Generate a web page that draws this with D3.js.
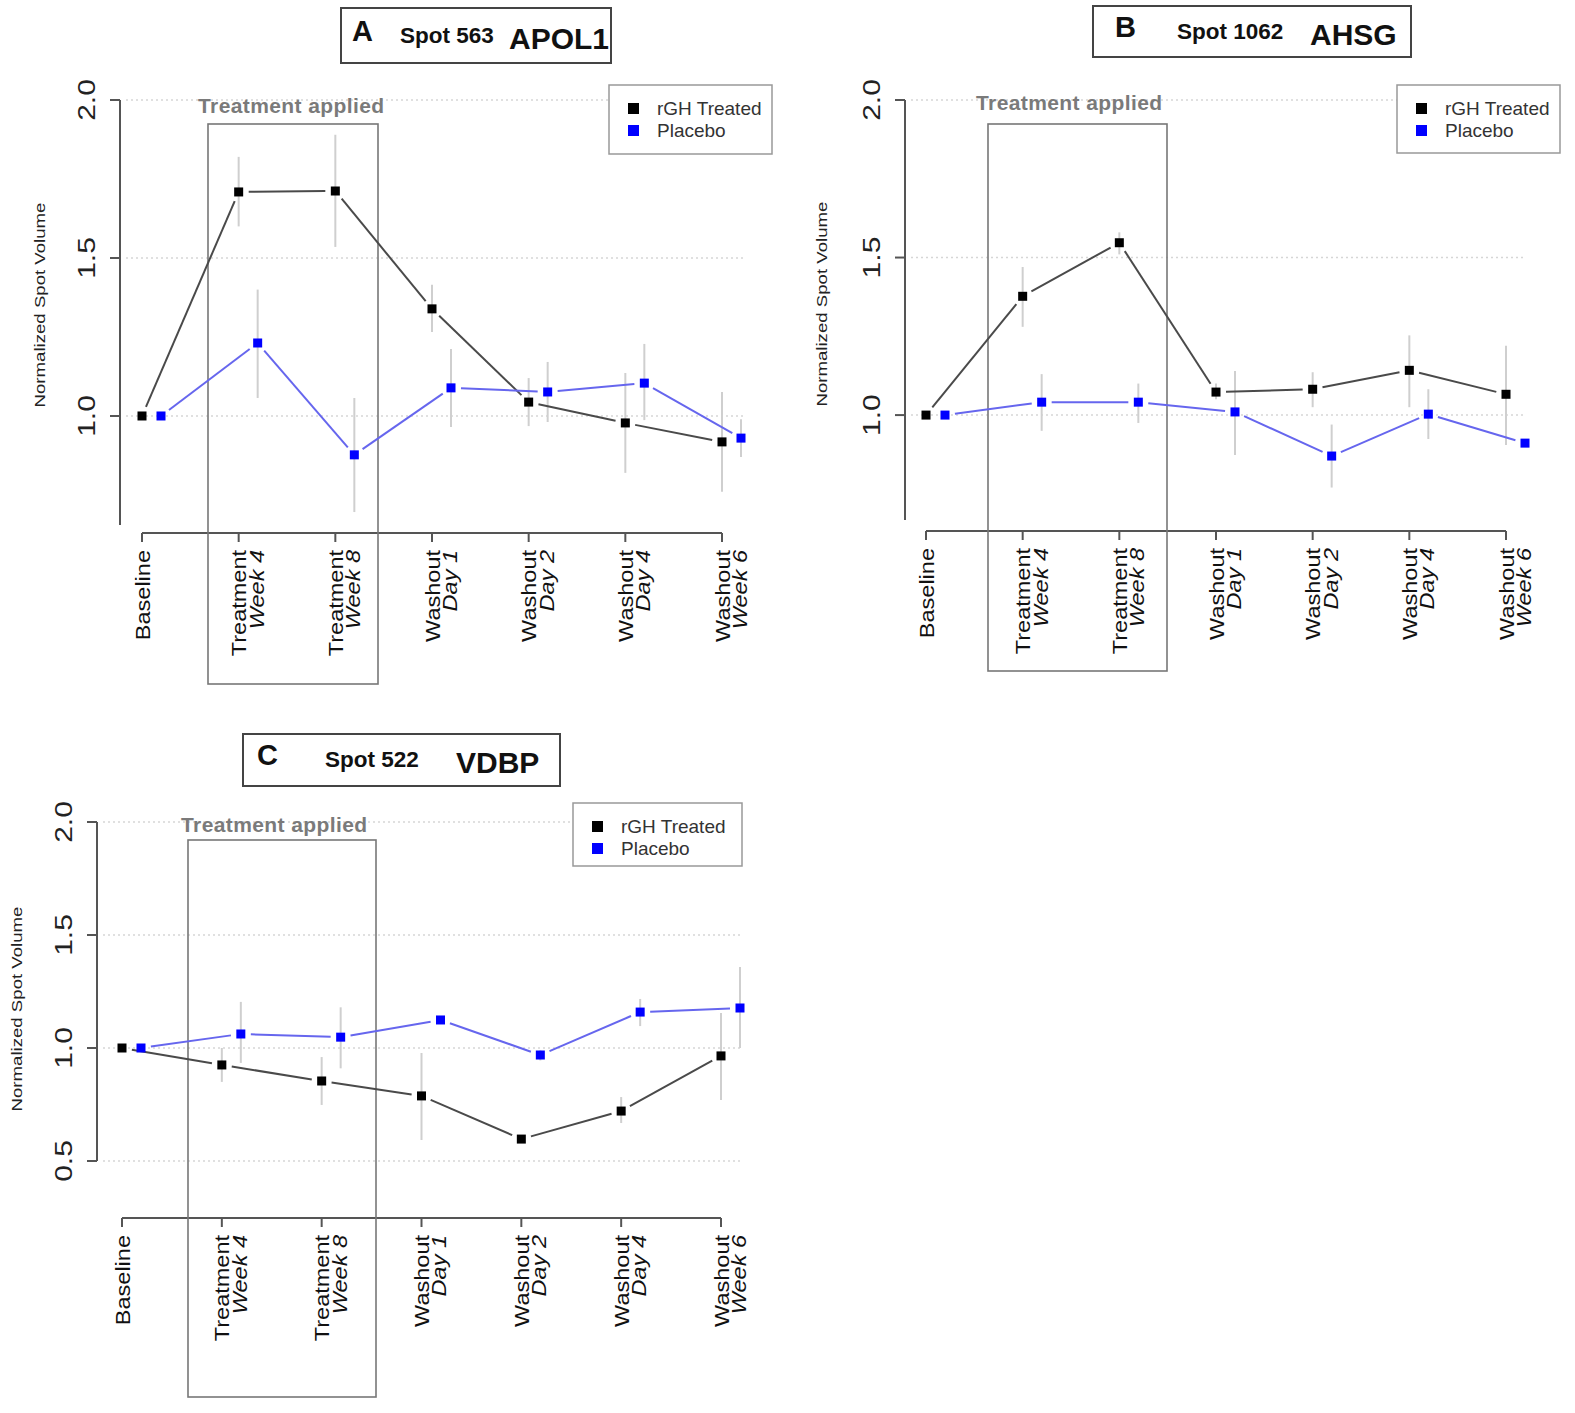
<!DOCTYPE html>
<html>
<head>
<meta charset="utf-8">
<script src="https://cdn.jsdelivr.net/npm/d3@7"></script>
<style>
  body { margin: 0; background: #fff; }
  svg text { font-family: "Liberation Sans", Arial, sans-serif; }
</style>
</head>
<body>
<div id="chart-area"></div>
<script>
// x categories (second line is italic)
var categories = [["Baseline"], ["Treatment", "Week 4"], ["Treatment", "Week 8"],
  ["Washout", "Day 1"], ["Washout", "Day 2"], ["Washout", "Day 4"], ["Washout", "Week 6"]];
var seriesNames = ["rGH Treated", "Placebo"];

// panel A - APOL1
var apol1Rgh   = [1.00, 1.709, 1.712, 1.339, 1.044, 0.978, 0.918];
var apol1RghLo = [null, 1.60, 1.535, 1.266, 0.968, 0.82, 0.76];
var apol1RghHi = [null, 1.82, 1.89, 1.415, 1.12, 1.136, 1.076];
var apol1Pla   = [1.00, 1.231, 0.877, 1.089, 1.076, 1.104, 0.93];
var apol1PlaLo = [null, 1.057, 0.696, 0.965, 0.981, 0.987, 0.87];
var apol1PlaHi = [null, 1.40, 1.057, 1.212, 1.171, 1.228, 0.99];

// panel B - AHSG
var ahsgRgh   = [1.00, 1.377, 1.547, 1.073, 1.082, 1.142, 1.066];
var ahsgRghLo = [null, 1.28, 1.51, 1.05, 1.025, 1.025, 0.905];
var ahsgRghHi = [null, 1.47, 1.58, 1.10, 1.136, 1.253, 1.22];
var ahsgPla   = [1.00, 1.041, 1.041, 1.01, 0.87, 1.003, 0.911];
var ahsgPlaLo = [null, 0.95, 0.975, 0.873, 0.77, 0.924, null];
var ahsgPlaHi = [null, 1.13, 1.10, 1.14, 0.97, 1.082, null];

// panel C - VDBP
var vdbpRgh   = [1.00, 0.925, 0.854, 0.788, 0.597, 0.721, 0.965];
var vdbpRghLo = [null, 0.85, 0.748, 0.593, 0.585, 0.668, 0.77];
var vdbpRghHi = [null, 1.00, 0.96, 0.978, 0.61, 0.783, 1.155];
var vdbpPla   = [1.00, 1.062, 1.048, 1.124, 0.969, 1.159, 1.177];
var vdbpPlaLo = [null, 0.934, 0.91, 1.11, 0.945, 1.097, 1.00];
var vdbpPlaHi = [null, 1.204, 1.18, 1.135, 0.99, 1.217, 1.358];

var yTicksAB = [1.0, 1.5, 2.0];
var yTicksC = [0.5, 1.0, 1.5, 2.0];

var svg = d3.select("#chart-area").append("svg")
  .attr("width", 1575)
  .attr("height", 1413);

var panels = [
  { letter: "A", spot: "Spot 563", protein: "APOL1",
    rgh: [apol1Rgh, apol1RghLo, apol1RghHi], pla: [apol1Pla, apol1PlaLo, apol1PlaHi],
    ticks: yTicksAB, ymin: 0.655, yTop: 100, yBot: 525, axisX: 120,
    xLeft: 142, xRight: 722, xAxisY: 533, gridRight: 745, ylabX: 40,
    title: [341, 8, 270, 55], letterX: 352, spotX: 400, protX: 509,
    box: [208, 124, 170, 560], applied: [198, 113],
    legend: [609, 85, 163, 69] },
  { letter: "B", spot: "Spot 1062", protein: "AHSG",
    rgh: [ahsgRgh, ahsgRghLo, ahsgRghHi], pla: [ahsgPla, ahsgPlaLo, ahsgPlaHi],
    ticks: yTicksAB, ymin: 0.667, yTop: 100, yBot: 520, axisX: 905,
    xLeft: 926, xRight: 1506, xAxisY: 531, gridRight: 1525, ylabX: 822,
    title: [1093, 6, 318, 51], letterX: 1115, spotX: 1177, protX: 1310,
    box: [988, 124, 179, 547], applied: [976, 110],
    legend: [1397, 85, 163, 68] },
  { letter: "C", spot: "Spot 522", protein: "VDBP",
    rgh: [vdbpRgh, vdbpRghLo, vdbpRghHi], pla: [vdbpPla, vdbpPlaLo, vdbpPlaHi],
    ticks: yTicksC, ymin: 0.5, yTop: 822, yBot: 1161, axisX: 97,
    xLeft: 122, xRight: 721, xAxisY: 1218, gridRight: 742, ylabX: 17,
    title: [243, 734, 317, 52], letterX: 257, spotX: 325, protX: 456,
    box: [188, 840, 188, 557], applied: [181, 832],
    legend: [573, 803, 169, 63] }
];

// shorten segments so lines stop short of the points (R type="b")
function gapSegments(pts, gap) {
  var segs = [];
  for (var i = 0; i < pts.length - 1; i++) {
    var a = pts[i], b = pts[i + 1];
    var dx = b[0] - a[0], dy = b[1] - a[1];
    var len = Math.sqrt(dx * dx + dy * dy);
    if (len <= 2 * gap) continue;
    var ux = dx / len, uy = dy / len;
    segs.push([a[0] + ux * gap, a[1] + uy * gap, b[0] - ux * gap, b[1] - uy * gap]);
  }
  return segs;
}

panels.forEach(function(p) {
  var g = svg.append("g");
  var idx = d3.range(categories.length);
  var x = d3.scalePoint().domain(idx).range([p.xLeft, p.xRight]);
  var y = d3.scaleLinear().domain([p.ymin, 2]).range([p.yBot, p.yTop]);
  var offset = 19;

  // grid
  g.selectAll(".grid").data(p.ticks).enter().append("line")
    .attr("x1", p.axisX + 6).attr("x2", p.gridRight)
    .attr("y1", function(d) { return y(d); }).attr("y2", function(d) { return y(d); })
    .attr("stroke", "#d6d6d6").attr("stroke-width", 1.5)
    .attr("stroke-dasharray", "2,3");

  // y axis
  g.append("line")
    .attr("x1", p.axisX).attr("x2", p.axisX)
    .attr("y1", y(2)).attr("y2", p.yBot)
    .attr("stroke", "#555").attr("stroke-width", 2);
  g.selectAll(".ytick").data(p.ticks).enter().append("line")
    .attr("x1", p.axisX - 10).attr("x2", p.axisX)
    .attr("y1", function(d) { return y(d); }).attr("y2", function(d) { return y(d); })
    .attr("stroke", "#555").attr("stroke-width", 2);
  g.selectAll(".ylab").data(p.ticks).enter().append("text")
    .attr("transform", function(d) { return "translate(" + (p.axisX - 34) + "," + y(d) + ") scale(1,1.25) rotate(-90)"; })
    .attr("text-anchor", "middle").attr("dy", "0.36em")
    .attr("font-size", "24px").attr("fill", "#222")
    .text(function(d) { return d3.format(".1f")(d); });
  g.append("text")
    .attr("transform", "translate(" + p.ylabX + "," + (y(1.0) + (p.letter === "C" ? -39 : -111)) + ") scale(1,1.33) rotate(-90)")
    .attr("text-anchor", "middle").attr("dy", "0.36em")
    .attr("font-size", "14px").attr("fill", "#222")
    .text("Normalized Spot Volume");

  // x axis
  g.append("line")
    .attr("x1", x(0)).attr("x2", x(idx.length - 1))
    .attr("y1", p.xAxisY).attr("y2", p.xAxisY)
    .attr("stroke", "#555").attr("stroke-width", 2);
  g.selectAll(".xtick").data(idx).enter().append("line")
    .attr("x1", function(d) { return x(d); }).attr("x2", function(d) { return x(d); })
    .attr("y1", p.xAxisY).attr("y2", p.xAxisY + 9)
    .attr("stroke", "#555").attr("stroke-width", 2);
  var xl = g.selectAll(".xlab").data(idx).enter().append("text")
    .attr("transform", function(d) { return "translate(" + x(d) + "," + (p.xAxisY + 17) + ") scale(1,1.12) rotate(-90)"; })
    .attr("text-anchor", "end").attr("font-size", "21px").attr("fill", "#111");
  xl.each(function(d) {
    var lines = categories[d];
    var t = d3.select(this);
    t.append("tspan").attr("x", 0).attr("y", 7.5).text(lines[0]);
    if (lines.length > 1) {
      t.append("tspan").attr("x", 0).attr("y", 25).attr("font-style", "italic").text(lines[1]);
    }
  });

  // treatment box
  g.append("rect")
    .attr("x", p.box[0]).attr("y", p.box[1]).attr("width", p.box[2]).attr("height", p.box[3])
    .attr("fill", "none").attr("stroke", "#777").attr("stroke-width", 1.6);
  g.append("text")
    .attr("x", p.applied[0]).attr("y", p.applied[1])
    .attr("font-family", "Lato, 'Open Sans', sans-serif").attr("font-weight", "bold")
    .attr("font-size", "21px").attr("fill", "#7a7a7a").attr("letter-spacing", "0.4px")
    .text("Treatment applied");

  // series
  var series = [
    { vals: p.rgh, dx: 0, line: "#4a4a4a", pt: "#000" },
    { vals: p.pla, dx: offset, line: "#6666ee", pt: "#0000ff" }
  ];
  series.forEach(function(s) {
    var lo = s.vals[1], hi = s.vals[2];
    g.selectAll(null).data(idx.filter(function(i) { return lo[i] !== null; })).enter().append("line")
      .attr("x1", function(i) { return x(i) + s.dx; }).attr("x2", function(i) { return x(i) + s.dx; })
      .attr("y1", function(i) { return y(lo[i]); }).attr("y2", function(i) { return y(hi[i]); })
      .attr("stroke", "#cfcfcf").attr("stroke-width", 2);
  });
  series.forEach(function(s) {
    var vals = s.vals[0];
    var pts = idx.map(function(i) { return [x(i) + s.dx, y(vals[i])]; });
    g.selectAll(null).data(gapSegments(pts, 10)).enter().append("line")
      .attr("x1", function(d) { return d[0]; }).attr("y1", function(d) { return d[1]; })
      .attr("x2", function(d) { return d[2]; }).attr("y2", function(d) { return d[3]; })
      .attr("stroke", s.line).attr("stroke-width", 2);
    g.selectAll(null).data(pts).enter().append("rect")
      .attr("x", function(d) { return d[0] - 4.5; }).attr("y", function(d) { return d[1] - 4.5; })
      .attr("width", 9).attr("height", 9).attr("fill", s.pt);
  });

  // legend
  var lg = g.append("g").attr("transform", "translate(" + p.legend[0] + "," + p.legend[1] + ")");
  lg.append("rect").attr("width", p.legend[2]).attr("height", p.legend[3])
    .attr("fill", "#fff").attr("stroke", "#999").attr("stroke-width", 1.5);
  lg.selectAll(null).data(seriesNames).enter().append("rect")
    .attr("x", 19).attr("y", function(d, i) { return 18 + i * 22; })
    .attr("width", 11).attr("height", 11)
    .attr("fill", function(d, i) { return i === 0 ? "#000" : "#0000ff"; });
  lg.selectAll(null).data(seriesNames).enter().append("text")
    .attr("x", 48).attr("y", function(d, i) { return 30 + i * 22; })
    .attr("font-size", "19px").attr("fill", "#333")
    .text(function(d) { return d; });

  // title box
  var tb = g.append("g");
  tb.append("rect")
    .attr("x", p.title[0]).attr("y", p.title[1]).attr("width", p.title[2]).attr("height", p.title[3])
    .attr("fill", "#fff").attr("stroke", "#444").attr("stroke-width", 2);
  var base = p.title[1] + p.title[3] * 0.68;
  tb.append("text").attr("x", p.letterX).attr("y", base - 4)
    .attr("font-family", "'Open Sans', sans-serif").attr("font-weight", "bold")
    .attr("font-size", "29px").attr("fill", "#111").text(p.letter);
  tb.append("text").attr("x", p.spotX).attr("y", base - 2)
    .attr("font-weight", "bold").attr("font-size", "22.5px").attr("fill", "#111").text(p.spot);
  tb.append("text").attr("x", p.protX).attr("y", base + 4)
    .attr("font-family", "'Open Sans', sans-serif").attr("font-weight", "bold")
    .attr("font-size", "30px").attr("fill", "#111").text(p.protein);
});
</script>
</body>
</html>
